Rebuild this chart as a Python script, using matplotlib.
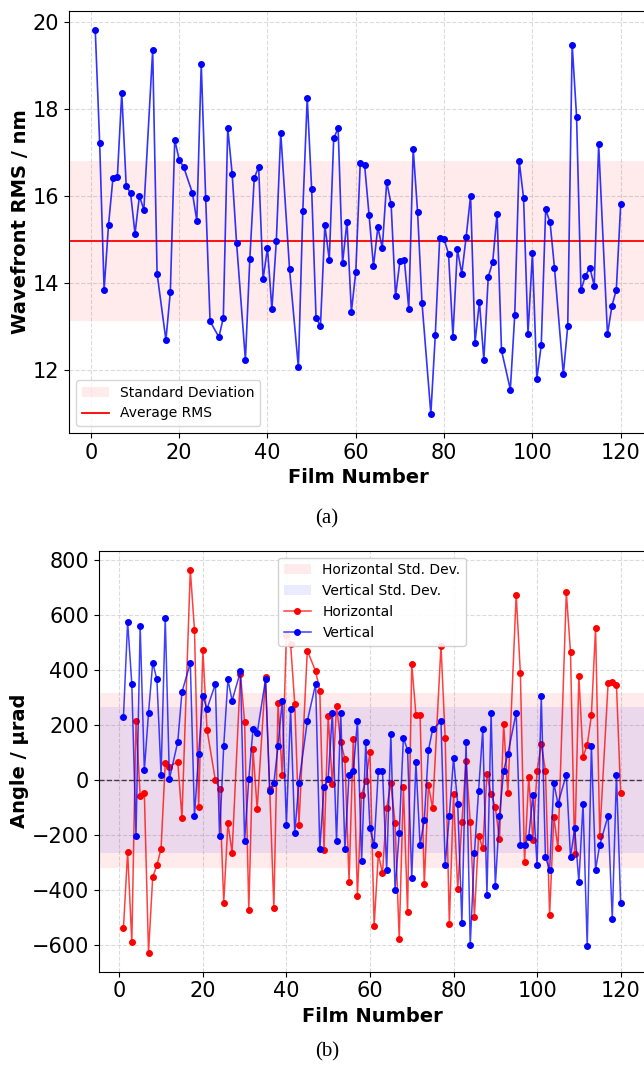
import matplotlib
matplotlib.use("Agg")
import matplotlib.pyplot as plt
import numpy as np

# ---------------- data ----------------
films = [1, 2, 3, 4, 5, 6, 7, 8, 9, 10, 11, 12, 14, 15, 17, 18, 19, 20, 21,
         23, 24, 25, 26, 27, 29, 30, 31, 32, 33, 35, 36, 37, 38, 39, 40, 41,
         42, 43, 45, 47, 48, 49, 50, 51, 52, 53, 54, 55, 56, 57, 58, 59, 60,
         61, 62, 63, 64, 65, 66, 67, 68, 69, 70, 71, 72, 73, 74, 75, 77, 78,
         79, 80, 81, 82, 83, 84, 85, 86, 87, 88, 89, 90, 91, 92, 93, 95, 96,
         97, 98, 99, 100, 101, 102, 103, 104, 105, 107, 108, 109, 110, 111,
         112, 113, 114, 115, 117, 118, 119, 120]

rms = [19.82, 17.21, 13.84, 15.33, 16.41, 16.43, 18.38, 16.24, 16.06, 15.13,
       16.00, 15.68, 19.36, 14.21, 12.68, 13.79, 17.30, 16.83, 16.67,
       16.07, 15.43, 19.05, 15.96, 13.11, 12.75, 13.19, 17.57, 16.51, 14.92,
       12.22, 14.55, 16.41, 16.67, 14.08, 14.80, 13.39, 14.96, 17.46, 14.31,
       12.05, 15.65, 18.26, 16.17, 13.19, 13.01, 15.32, 14.53, 17.33, 17.56,
       14.45, 15.41, 13.33, 14.25, 16.75, 16.71, 15.57, 14.38, 15.28, 14.80,
       16.32, 15.81, 13.69, 14.50, 14.52, 13.40, 17.09, 15.62, 13.53, 10.98,
       12.79, 15.03, 15.00, 14.67, 12.76, 14.77, 14.21, 15.06, 16.01, 12.62,
       13.56, 12.22, 14.14, 14.47, 15.59, 12.44, 11.54, 13.26, 16.81, 15.95,
       12.82, 14.68, 11.79, 12.56, 15.69, 15.39, 14.34, 11.89, 13.00, 19.49,
       17.83, 13.83, 14.16, 14.35, 13.93, 17.19, 12.81, 13.46, 13.84, 15.82]

horizontal = [-538, -260, -589, 214, -57, -47, -627, -352, -310, -249, 62, 50,
              68, -136, 766, 547, -99, 476, 184, 0, -30, -445, -156, -263, 388,
              212, -472, 113, -104, 375, -30, -465, 282, 18, 530, 497, 278,
              -162, 472, 397, 325, -254, 234, -15, 271, 138, 79, -369, 151,
              -420, -53, -2, 103, -529, -269, -338, -102, -10, -154, -576, -24,
              -479, 424, 238, 238, -379, -18, -102, 489, 155, -524, -51, -396,
              -151, 70, -151, -496, -201, -247, 23, -51, -98, -215, 206, -46,
              676, 390, -299, 13, -219, 35, 133, 34, -490, -133, -247, 685,
              466, -267, 380, 86, 128, 236, 555, -201, 353, 357, 346, -46]

vertical = [230, 577, 351, -204, 561, 36, 246, 427, 368, 21, 592, 5, 140, 321,
            427, -129, 97, 306, 260, 351, -204, 125, 367, 290, 396, -220, 5,
            185, 171, 367, -39, -10, 125, 290, -161, 260, -191, -10, 215, 351,
            -250, -24, 6, 246, -220, 246, -250, 21, 35, 215, -295, 140, -175,
            -236, 35, 35, -325, 169, -400, -191, 155, 110, -356, 65, -236,
            -145, 110, 185, 215, -310, -129, 80, -85, -520, 140, -601, -265,
            -39, 185, -416, 246, -386, -129, 35, 96, 246, -235, -235, -206,
            -54, -310, 306, -280, -325, -10, -85, 21, -280, -175, -370, -85,
            -604, 126, -325, -235, -129, -506, 21, -445]

rms_mean = 14.97
rms_std = 1.84
h_mean = 0.0
h_std = 318
v_mean = 0.0
v_std = 266

x_ticks = [0, 20, 40, 60, 80, 100, 120]
rms_ticks = [12, 14, 16, 18, 20]
angle_ticks = [-600, -400, -200, 0, 200, 400, 600, 800]

# ---------------- figure ----------------
W, H = 644, 1070
fig = plt.figure(figsize=(W / 100, H / 100), dpi=100)

def rect(l, t, r, b):
    return [l / W, 1 - b / H, (r - l) / W, (b - t) / H]

grid_kw = dict(color="#cccccc", linestyle="--", linewidth=0.8, alpha=0.7)

# ---- (a) ----
ax1 = fig.add_axes(rect(69, 11, 647, 433))
ax1.axhspan(rms_mean - rms_std, rms_mean + rms_std, color="red", alpha=0.08,
            lw=0, label="Standard Deviation")
ax1.axhline(rms_mean, color="red", lw=1.3, label="Average RMS")
ax1.plot(films, rms, "-", color=(0, 0, 1, 0.8), lw=1.2, marker="o",
         markersize=4, markerfacecolor="blue", markeredgecolor="blue")
ax1.set_xticks(x_ticks)
ax1.set_yticks(rms_ticks)
ax1.tick_params(labelsize=15)
ax1.set_xlabel("Film Number", fontsize=14, fontweight="bold")
ax1.set_ylabel("Wavefront RMS / nm", fontsize=14, fontweight="bold",
               labelpad=2)
ax1.grid(True, **grid_kw)
ax1.set_axisbelow(True)
ax1.legend(loc="lower left", fontsize=10, framealpha=0.8)

# ---- (b) ----
ax2 = fig.add_axes(rect(98.6, 550.7, 645.5, 971.7))
ax2.axhspan(h_mean - h_std, h_mean + h_std, color="red", alpha=0.08, lw=0,
            label="Horizontal Std. Dev.")
ax2.axhspan(v_mean - v_std, v_mean + v_std, color="blue", alpha=0.08, lw=0,
            label="Vertical Std. Dev.")
ax2.axhline(0, color="black", linestyle="--", lw=1, alpha=0.7)
ax2.plot(films, horizontal, "-", color=(1, 0, 0, 0.75), lw=1.1, marker="o",
         markersize=4, markerfacecolor="red", markeredgecolor="red",
         label="Horizontal")
ax2.plot(films, vertical, "-", color=(0, 0, 1, 0.75), lw=1.1, marker="o",
         markersize=4, markerfacecolor="blue", markeredgecolor="blue",
         label="Vertical")
ax2.set_xticks(x_ticks)
ax2.set_yticks(angle_ticks)
ax2.tick_params(labelsize=15)
ax2.set_xlabel("Film Number", fontsize=14, fontweight="bold")
ax2.set_ylabel("Angle / μrad", fontsize=14, fontweight="bold", labelpad=2)
ax2.grid(True, **grid_kw)
ax2.set_axisbelow(True)
ax2.legend(loc="upper center", fontsize=10, framealpha=0.9)

serif = ["Liberation Serif", "DejaVu Serif"]
fig.text(327 / W, 1 - 519 / H, "(a)", ha="center", va="center", fontsize=15,
         family=serif)
fig.text(327 / W, 1 - 1052 / H, "(b)", ha="center", va="center", fontsize=15,
         family=serif)

fig.savefig("out.png", dpi=100)
